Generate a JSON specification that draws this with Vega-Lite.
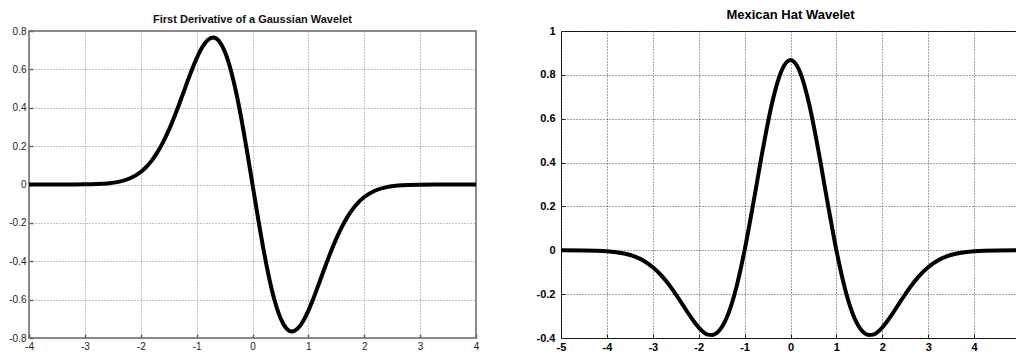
{
  "$schema": "https://vega.github.io/schema/vega-lite/v6.json",
  "background": "white",
  "padding": {"left": 8, "top": 8, "right": 0, "bottom": 0},
  "spacing": 50,
  "datasets": {
    "dog": [
      {"x": -4, "y": 0}, {"x": -3.5, "y": 0}, {"x": -3, "y": 0.0007}, {"x": -2.8, "y": 0.002}, {"x": -2.6, "y": 0.0054},
      {"x": -2.4, "y": 0.0135}, {"x": -2.2, "y": 0.0311}, {"x": -2.0, "y": 0.0654}, {"x": -1.9, "y": 0.0918}, {"x": -1.8, "y": 0.1259},
      {"x": -1.7, "y": 0.1688}, {"x": -1.6, "y": 0.2209}, {"x": -1.5, "y": 0.2824}, {"x": -1.4, "y": 0.3522}, {"x": -1.3, "y": 0.4284},
      {"x": -1.2, "y": 0.5078}, {"x": -1.1, "y": 0.5858}, {"x": -1.0, "y": 0.657}, {"x": -0.9, "y": 0.7151}, {"x": -0.8, "y": 0.7534},
      {"x": -0.7, "y": 0.7659}, {"x": -0.6, "y": 0.7476}, {"x": -0.5, "y": 0.6955}, {"x": -0.4, "y": 0.6088}, {"x": -0.3, "y": 0.4897},
      {"x": -0.2, "y": 0.3432}, {"x": -0.1, "y": 0.1768}, {"x": 0, "y": 0},
      {"x": 0.1, "y": -0.1768}, {"x": 0.2, "y": -0.3432}, {"x": 0.3, "y": -0.4897}, {"x": 0.4, "y": -0.6088}, {"x": 0.5, "y": -0.6955},
      {"x": 0.6, "y": -0.7476}, {"x": 0.7, "y": -0.7659}, {"x": 0.8, "y": -0.7534}, {"x": 0.9, "y": -0.7151}, {"x": 1.0, "y": -0.657},
      {"x": 1.1, "y": -0.5858}, {"x": 1.2, "y": -0.5078}, {"x": 1.3, "y": -0.4284}, {"x": 1.4, "y": -0.3522}, {"x": 1.5, "y": -0.2824},
      {"x": 1.6, "y": -0.2209}, {"x": 1.7, "y": -0.1688}, {"x": 1.8, "y": -0.1259}, {"x": 1.9, "y": -0.0918}, {"x": 2.0, "y": -0.0654},
      {"x": 2.2, "y": -0.0311}, {"x": 2.4, "y": -0.0135}, {"x": 2.6, "y": -0.0054}, {"x": 2.8, "y": -0.002}, {"x": 3.0, "y": -0.0007},
      {"x": 3.5, "y": 0}, {"x": 4, "y": 0}
    ],
    "hat": [
      {"x": -5, "y": 0}, {"x": -4.5, "y": -0.0007}, {"x": -4.0, "y": -0.0044}, {"x": -3.8, "y": -0.0085}, {"x": -3.6, "y": -0.0159},
      {"x": -3.4, "y": -0.0283}, {"x": -3.2, "y": -0.0479}, {"x": -3.0, "y": -0.0771}, {"x": -2.8, "y": -0.1177}, {"x": -2.6, "y": -0.1701},
      {"x": -2.4, "y": -0.2317}, {"x": -2.2, "y": -0.2961}, {"x": -2.0, "y": -0.3521}, {"x": -1.8, "y": -0.3845}, {"x": -1.7, "y": -0.3864},
      {"x": -1.6, "y": -0.3762}, {"x": -1.4, "y": -0.3125}, {"x": -1.2, "y": -0.1858}, {"x": -1.0, "y": 0}, {"x": -0.8, "y": 0.2267},
      {"x": -0.6, "y": 0.4636}, {"x": -0.4, "y": 0.6725}, {"x": -0.2, "y": 0.8161}, {"x": 0, "y": 0.8673},
      {"x": 0.2, "y": 0.8161}, {"x": 0.4, "y": 0.6725}, {"x": 0.6, "y": 0.4636}, {"x": 0.8, "y": 0.2267}, {"x": 1.0, "y": 0},
      {"x": 1.2, "y": -0.1858}, {"x": 1.4, "y": -0.3125}, {"x": 1.6, "y": -0.3762}, {"x": 1.7, "y": -0.3864}, {"x": 1.8, "y": -0.3845},
      {"x": 2.0, "y": -0.3521}, {"x": 2.2, "y": -0.2961}, {"x": 2.4, "y": -0.2317}, {"x": 2.6, "y": -0.1701}, {"x": 2.8, "y": -0.1177},
      {"x": 3.0, "y": -0.0771}, {"x": 3.2, "y": -0.0479}, {"x": 3.4, "y": -0.0283}, {"x": 3.6, "y": -0.0159}, {"x": 3.8, "y": -0.0085},
      {"x": 4.0, "y": -0.0044}, {"x": 4.5, "y": -0.0007}, {"x": 5, "y": 0}
    ]
  },
  "hconcat": [
    {
      "data": {"name": "dog"},
      "width": 447,
      "height": 307,
      "title": {"text": "First Derivative of a Gaussian Wavelet", "font": "Liberation Sans", "fontSize": 11, "fontWeight": "bold", "color": "#111", "offset": 1},
      "view": {"stroke": "#666", "strokeWidth": 1.5},
      "mark": {"type": "line", "color": "black", "strokeWidth": 4, "interpolate": "monotone"},
      "encoding": {
        "x": {"field": "x", "type": "quantitative", "title": null,
          "scale": {"domain": [-4, 4], "nice": false, "zero": false},
          "axis": {"values": [-4, -3, -2, -1, 0, 1, 2, 3, 4], "labelExpr": "'' + datum.value", "domain": false,
            "grid": true, "gridDash": [1, 2], "gridColor": "#888", "gridOpacity": 1,
            "tickSize": -4, "tickColor": "#666", "tickWidth": 1.5, "labelPadding": 7, "labelFont": "Liberation Sans", "labelFontSize": 10, "labelColor": "#222", "labelFlush": false}},
        "y": {"field": "y", "type": "quantitative", "title": null,
          "scale": {"domain": [-0.8, 0.8], "nice": false, "zero": false},
          "axis": {"values": [-0.8, -0.6, -0.4, -0.2, 0, 0.2, 0.4, 0.6, 0.8], "labelExpr": "'' + datum.value", "domain": false,
            "grid": true, "gridDash": [1, 2], "gridColor": "#888", "gridOpacity": 1,
            "tickSize": -4, "tickColor": "#666", "tickWidth": 1.5, "labelPadding": 7, "labelFont": "Liberation Sans", "labelFontSize": 10, "labelColor": "#222", "labelFlush": false}}
      }
    },
    {
      "data": {"name": "hat"},
      "width": 459,
      "height": 307,
      "title": {"text": "Mexican Hat Wavelet", "font": "Liberation Sans", "fontSize": 13, "fontWeight": "bold", "color": "black", "offset": 3.5},
      "view": {"stroke": "black", "strokeWidth": 1},
      "mark": {"type": "line", "color": "black", "strokeWidth": 4, "interpolate": "monotone"},
      "encoding": {
        "x": {"field": "x", "type": "quantitative", "title": null,
          "scale": {"domain": [-5, 5], "nice": false, "zero": false},
          "axis": {"values": [-5, -4, -3, -2, -1, 0, 1, 2, 3, 4], "labelExpr": "'' + datum.value", "domain": false,
            "grid": true, "gridDash": [1, 2], "gridColor": "#444", "gridOpacity": 1,
            "tickSize": -4, "tickColor": "#222", "labelPadding": 7, "labelFont": "Liberation Sans", "labelFontSize": 11, "labelFontWeight": "bold", "labelColor": "black", "labelFlush": false}},
        "y": {"field": "y", "type": "quantitative", "title": null,
          "scale": {"domain": [-0.4, 1], "nice": false, "zero": false},
          "axis": {"values": [-0.4, -0.2, 0, 0.2, 0.4, 0.6, 0.8, 1], "labelExpr": "'' + datum.value", "domain": false,
            "grid": true, "gridDash": [1, 2], "gridColor": "#444", "gridOpacity": 1,
            "tickSize": -4, "tickColor": "#222", "labelPadding": 10, "labelFont": "Liberation Sans", "labelFontSize": 11, "labelFontWeight": "bold", "labelColor": "black", "labelFlush": false}}
      }
    }
  ]
}
